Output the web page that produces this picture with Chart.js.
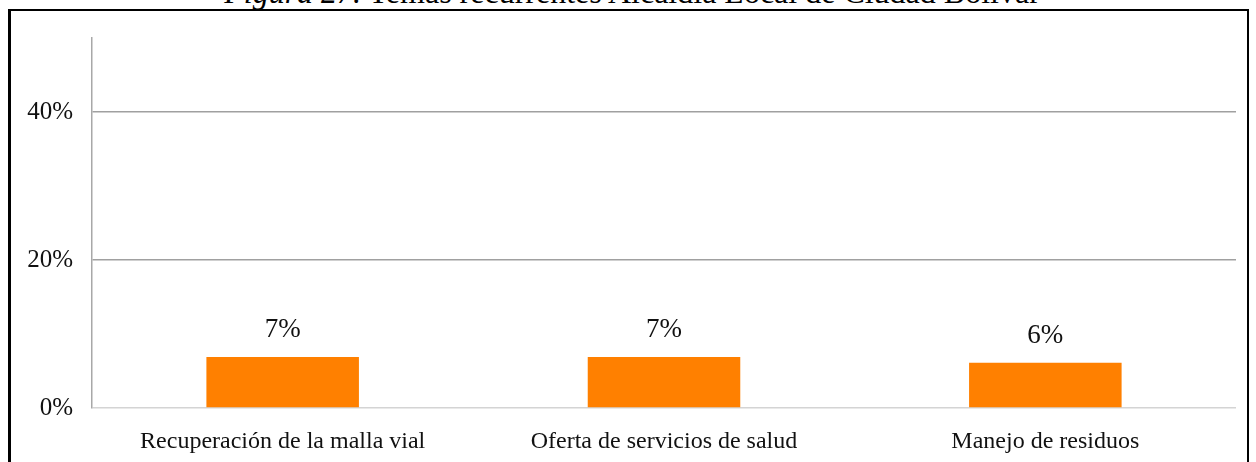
<!DOCTYPE html>
<html>
<head>
<meta charset="utf-8">
<script src="https://cdn.jsdelivr.net/npm/chart.js@4"></script>
<style>
  html, body { margin: 0; padding: 0; background: #fff; }
  body { width: 1256px; height: 462px; position: relative; overflow: hidden; }
  #titulo {
    position: absolute; left: 4px; width: 1256px; top: -26px;
    text-align: center; font-family: "Liberation Serif", serif; font-size: 32px;
    color: #000; white-space: nowrap;
  }
  #marco {
    position: absolute; left: 8px; top: 9px; width: 1236px; height: 470px;
    border-left: 3px solid #000; border-top: 2px solid #000; border-right: 2px solid #000;
  }
  #grafico { position: absolute; left: 0; top: 0; }
</style>
</head>
<body>
<div id="titulo"><i>Figura 27.</i> Temas recurrentes Alcaldía Local de Ciudad Bolívar</div>
<div id="marco"></div>
<canvas id="grafico" width="1256" height="462"></canvas>
<script>
const temas = ['Recuperación de la malla vial', 'Oferta de servicios de salud', 'Manejo de residuos'];
const porcentajes = [6.9, 6.9, 6.1];
const etiquetas = ['7%', '7%', '6%'];

const naranja = '#ff8000';
const fuente = '"Liberation Serif", "Times New Roman", serif';

// etiquetas encima de las barras
const etiquetasBarras = {
  id: 'etiquetasBarras',
  afterDatasetsDraw(chart) {
    const ctx = chart.ctx;
    const meta = chart.getDatasetMeta(0);
    ctx.save();
    ctx.font = '27px ' + fuente;
    ctx.fillStyle = '#111';
    ctx.textAlign = 'center';
    ctx.textBaseline = 'middle';
    meta.data.forEach((barra, i) => {
      ctx.fillText(etiquetas[i], barra.x, barra.y - 27);
    });
    ctx.restore();
  }
};

new Chart(document.getElementById('grafico'), {
  type: 'bar',
  data: {
    labels: temas,
    datasets: [{
      data: porcentajes,
      backgroundColor: naranja,
      barPercentage: 0.4,
      categoryPercentage: 1
    }]
  },
  options: {
    responsive: false,
    animation: false,
    layout: { padding: { left: 0, right: 20, top: 38, bottom: 0 } },
    plugins: {
      legend: { display: false },
      tooltip: { enabled: false }
    },
    scales: {
      x: {
        grid: { display: false, drawTicks: false },
        border: { display: false },
        ticks: { color: '#111', font: { family: fuente, size: 24 }, padding: 19, maxRotation: 0 },
        afterFit(scale) { scale.height = 54; }
      },
      y: {
        min: 0,
        max: 50,
        grid: {
          drawTicks: false,
          color: (c) => c.tick && c.tick.value === 0 ? '#d4d4d4' : '#a0a0a0',
          lineWidth: 1.5
        },
        border: { color: '#a8a8a8', width: 1.5 },
        ticks: {
          stepSize: 20,
          includeBounds: false,
          padding: 19,
          color: '#111',
          font: { family: fuente, size: 25 },
          callback: (v) => v + '%'
        },
        afterFit(scale) { scale.width = 92; }
      }
    }
  },
  plugins: [etiquetasBarras]
});
</script>
</body>
</html>
